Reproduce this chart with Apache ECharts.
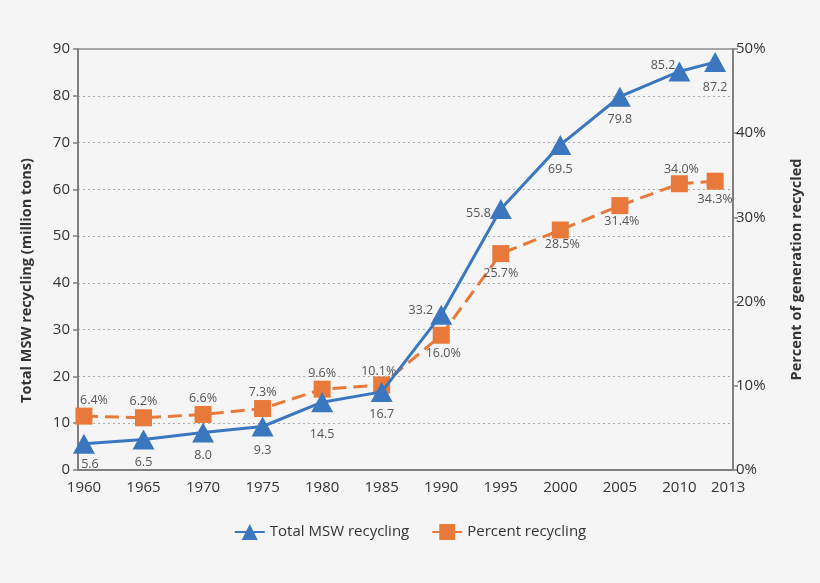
<!DOCTYPE html>
<html><head><meta charset="utf-8">
<script src="https://cdn.jsdelivr.net/npm/echarts@6/dist/echarts.min.js"></script>
<style>html,body{margin:0;padding:0;background:#f5f5f5}#c{width:820px;height:583px}</style>
</head><body><div id="c"></div>
<script>
var years = [1960, 1965, 1970, 1975, 1980, 1985, 1990, 1995, 2000, 2005, 2010, 2013];
var totalMSW = [5.6, 6.5, 8.0, 9.3, 14.5, 16.7, 33.2, 55.8, 69.5, 79.8, 85.2, 87.2];
var percentRecycling = [6.4, 6.2, 6.6, 7.3, 9.6, 10.1, 16.0, 25.7, 28.5, 31.4, 34.0, 34.3];
var xTickLabels = [1960, 1965, 1970, 1975, 1980, 1985, 1990, 1995, 2000, 2005, 2010, 2013];

var totalLabelPos = ['bottom','bottom','bottom','bottom','bottom','bottom','left','left','bottom','bottom','left','bottom'];
var totalLabelOff = [[6,-2],[0,0],[0,0],[0,1],[0,10],[0,0],[9,-4],[7,4],[0,2],[0,0],[13,-6],[0,3]];
var pctLabelPos = ['top','top','top','top','top','top','bottom','bottom','bottom','bottom','top','bottom'];
var pctLabelOff = [[10,0],[0,0],[0,0],[0,0],[0,0],[-3,2],[2,2],[0,4],[2,-2],[2,0],[2,2],[0,2]];

var FONT = '"Open Sans", "Noto Sans", sans-serif';
var blue = '#3a77bf', orange = '#e8793a';

var chart = echarts.init(document.getElementById('c'));
chart.setOption({
  backgroundColor: '#f5f5f5',
  textStyle: { fontFamily: FONT },
  animation: false,
  grid: { left: 78, right: 87, top: 49, bottom: 113, show: true, borderColor: '#8a8a8a', borderWidth: 1.5, backgroundColor: 'transparent' },
  legend: {
    bottom: 38, left: 'center', itemWidth: 30, itemHeight: 20, itemGap: 22,
    textStyle: { fontSize: 15, color: '#333', fontFamily: FONT },
    data: ['Total MSW recycling', 'Percent recycling']
  },
  xAxis: {
    type: 'value', min: 1959.5, max: 2014.5,
    axisLine: { show: true, lineStyle: { color: '#7f7f7f', width: 2 } },
    axisTick: { show: false },
    splitLine: { show: false },
    axisLabel: {
      customValues: xTickLabels, fontSize: 15, color: '#333', margin: 10,
      formatter: function(v){ return v === 2013 ? '{r|' + v + '}' : String(v); },
      rich: { r: { fontSize: 15, color: '#333', padding: [0, 0, 0, 26] } }
    }
  },
  yAxis: [{
    type: 'value', min: 0, max: 90, interval: 10,
    name: 'Total MSW recycling (million tons)', nameLocation: 'middle', nameGap: 44, nameRotate: 90,
    nameTextStyle: { fontSize: 14.5, fontWeight: 'bold', color: '#333', padding: [0, 42, 0, 0] },
    axisLine: { show: true, lineStyle: { color: '#7f7f7f', width: 2 } },
    axisTick: { show: true, length: 5, lineStyle: { color: '#7f7f7f', width: 1.5 } },
    axisLabel: { fontSize: 15, color: '#333', margin: 8 },
    splitLine: { show: true, lineStyle: { color: '#aaa', type: [2, 3], width: 1 } }
  }, {
    type: 'value', min: 0, max: 50, interval: 10, position: 'right',
    name: 'Percent of generation recycled', nameLocation: 'middle', nameGap: 56, nameRotate: 90,
    nameTextStyle: { fontSize: 14.5, fontWeight: 'bold', color: '#333', padding: [0, 20, 0, 0] },
    axisLine: { show: true, lineStyle: { color: '#7f7f7f', width: 2 } },
    axisTick: { show: true, length: 5, lineStyle: { color: '#7f7f7f', width: 1.5 } },
    axisLabel: { fontSize: 15, color: '#333', margin: 3, formatter: '{value}%' },
    splitLine: { show: false }
  }],
  series: [{
    name: 'Percent recycling', type: 'line', yAxisIndex: 1,
    symbol: 'rect', symbolSize: 17,
    itemStyle: { color: orange },
    lineStyle: { color: orange, width: 3, type: [14, 7] },
    data: years.map(function(y, i){
      return { value: [y, percentRecycling[i]], label: { position: pctLabelPos[i], offset: pctLabelOff[i] } };
    }),
    label: { show: true, fontSize: 12.5, color: '#555', distance: 1, formatter: function(p){ return p.value[1].toFixed(1) + '%'; } },
    z: 2
  }, {
    name: 'Total MSW recycling', type: 'line', yAxisIndex: 0,
    symbol: 'triangle', symbolSize: [22, 20],
    itemStyle: { color: blue },
    lineStyle: { color: blue, width: 3 },
    data: years.map(function(y, i){
      return { value: [y, totalMSW[i]], label: { position: totalLabelPos[i], offset: totalLabelOff[i] } };
    }),
    label: { show: true, fontSize: 12.5, color: '#555', distance: 6, formatter: function(p){ return p.value[1].toFixed(1); } },
    z: 3
  }]
});
</script></body></html>
